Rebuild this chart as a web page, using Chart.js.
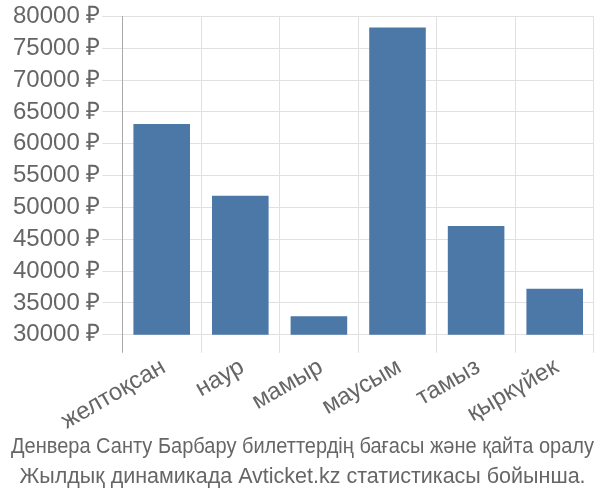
<!DOCTYPE html>
<html>
<head>
<meta charset="utf-8">
<script src="https://cdn.jsdelivr.net/npm/chart.js@4/dist/chart.umd.min.js"></script>
<style>
html,body{margin:0;padding:0;background:#fff;}
#wrap{width:600px;height:500px;position:relative;}
</style>
</head>
<body>
<div id="wrap"><canvas id="c" width="600" height="500"></canvas></div>
<script>
const categories = ["желтоқсан", "наур", "мамыр", "маусым", "тамыз", "қыркүйек"];
const prices = [63100, 51850, 32900, 78250, 47100, 37250];
const yTickMin = 30000;
const yTickMax = 80000;
const yTickStep = 5000;
const currency = " ₽";
const titleLines = [
  "Денвера Санту Барбару билеттердің бағасы және қайта оралу",
  "Жылдық динамикада Avticket.kz статистикасы бойынша."
];

const FONT = "'Liberation Sans', Arial, sans-serif";
new Chart(document.getElementById('c'), {
  type: 'bar',
  data: {
    labels: categories,
    datasets: [{
      data: prices,
      backgroundColor: '#4c78a8',
      borderWidth: 0,
      barPercentage: 0.72,
      categoryPercentage: 1.0
    }]
  },
  options: {
    responsive: false,
    animation: false,
    layout: { padding: { left: 11, right: 6, top: 2, bottom: 8 } },
    plugins: {
      legend: { display: false },
      tooltip: { enabled: false },
      title: {
        display: true,
        position: 'bottom',
        text: titleLines,
        color: '#666',
        font: { family: FONT, size: 21.5, weight: 'normal', lineHeight: 1.38 },
        padding: { top: 0, bottom: 0 }
      }
    },
    scales: {
      x: {
        afterFit: (scale) => { scale.height -= 3; },
        grid: {
          color: (ctx) => ctx.index === 0 ? '#aaa' : '#e0e0e0',
          lineWidth: 1,
          tickLength: 18,
          drawOnChartArea: true
        },
        border: { display: false },
        ticks: {
          color: '#666',
          font: { family: FONT, size: 24 },
          minRotation: 30,
          maxRotation: 30,
          padding: 0,
          labelOffset: 2,
          autoSkip: false
        }
      },
      y: {
        min: yTickMin,
        max: yTickMax,
        grid: { color: '#e0e0e0', lineWidth: 1, tickLength: 20 },
        border: { display: true, color: '#aaa', width: 1 },
        ticks: {
          stepSize: yTickStep,
          autoSkip: false,
          color: '#666',
          font: { family: FONT, size: 24 },
          padding: 2,
          callback: (v) => v + currency
        }
      }
    }
  }
});
</script>
</body>
</html>
